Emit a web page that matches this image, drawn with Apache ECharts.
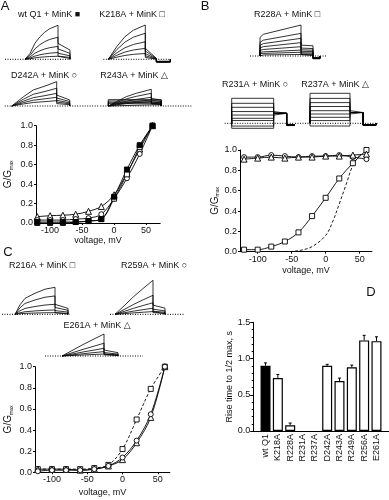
<!DOCTYPE html>
<html><head><meta charset="utf-8">
<script src="https://cdn.jsdelivr.net/npm/echarts@6/dist/echarts.min.js"></script>
<style>html,body{margin:0;padding:0;background:#fff}#c{width:389px;height:500px}</style>
</head><body><div id="c"></div>
<script>
const FONT = 'Liberation Sans, Arial, DejaVu Sans, sans-serif';

// ---------- G–V data (voltage in mV, normalized conductance) ----------
const vSteps = [-120, -100, -80, -60, -40, -20, 0, 20, 40, 60];
const vTicks = [-100, -50, 0, 50];
// Panel A
const gvWtQ1  = [0.01, 0.01, 0.01, 0.01, 0.02, 0.04, 0.27, 0.55, 0.80, 1.00];
const gvK218A = [0.00, 0.00, 0.00, 0.01, 0.02, 0.04, 0.25, 0.50, 0.78, 1.00];
const gvD242A = [0.03, 0.03, 0.03, 0.04, 0.05, 0.09, 0.25, 0.46, 0.71, 1.00];
const gvR243A = [0.065, 0.075, 0.08, 0.09, 0.12, 0.17, 0.29, 0.51, 0.76, 1.00];
// Panel B
const gvR228A = [0.02, 0.02, 0.05, 0.10, 0.19, 0.35, 0.53, 0.72, 0.87, 1.00];
const gvR231A = [0.93, 0.93, 0.95, 0.94, 0.93, 0.94, 0.94, 0.95, 0.93, 0.91];
const gvR237A = [0.91, 0.92, 0.93, 0.92, 0.93, 0.93, 0.94, 0.94, 0.95, 0.96];
const fitWtV  = [-60, -40, -20, 0, 10, 20, 30, 40, 50];
const fitWtG  = [0.00, 0.01, 0.05, 0.16, 0.29, 0.47, 0.66, 0.85, 0.95];
// Panel C
const gvR216A = [0.03, 0.03, 0.03, 0.03, 0.04, 0.07, 0.22, 0.50, 0.79, 1.00];
const gvR259A = [0.01, 0.02, 0.02, 0.02, 0.03, 0.06, 0.14, 0.30, 0.55, 1.00];
const gvE261A = [0.03, 0.03, 0.03, 0.02, 0.03, 0.06, 0.12, 0.28, 0.52, 1.00];

// ---------- Panel D: rise time to 1/2 max (s) ----------
const mutants   = ['wt Q1', 'K218A', 'R228A', 'R231A', 'R237A', 'D242A', 'R243A', 'R249A', 'R256A', 'E261A'];
const riseTime  = [0.90, 0.73, 0.08, null, null, 0.90, 0.69, 0.88, 1.25, 1.24];
const riseErr   = [0.04, 0.05, 0.03, 0, 0, 0.02, 0.04, 0.03, 0.07, 0.06];

// ---------- Current traces (time in ms from step onset, current normalized) ----------
// times: [baseline start, step end, tail end, baseline end]
const wtTimes = [-1000, 1650, 2250, 2250];
const wtLevels = [1, 0.65, 0.38, 0.2, 0.09];
const wtShapeT = [0, 0.15, 0.3, 0.45, 0.6, 0.75, 1];
const wtShapeG = [0, 0.17, 0.47, 0.66, 0.8, 0.9, 1];
const wtTail = [0.47, 0.27];

const k218Times = [-250, 1850, 2400, 3100];
const k218Levels = [1, 0.76, 0.51, 0.32, 0.17];
const k218ShapeT = [0, 0.23, 0.45, 0.68, 1];
const k218ShapeG = [0, 0.37, 0.66, 0.85, 1];
const k218Tail = [0.32, 0.03];
const k218Under = [-0.07, 3100];

const d242Times = [-350, 2250, 2900, 4400];
const d242Levels = [1, 0.73, 0.52, 0.36, 0.22];
const d242ShapeT = [0, 0.26, 0.48, 0.74, 1];
const d242ShapeG = [0, 0.38, 0.66, 0.82, 1];
const d242Tail = [0.45, 0.25];

const r243Times = [-400, 2150, 2650, 4200];
const r243Levels = [1, 0.76, 0.52, 0.36, 0.26];
const r243ShapeT = [0, 0.19, 0.42, 0.65, 1];
const r243ShapeG = [0, 0.26, 0.56, 0.76, 1];
const r243Tail = [0.46, 0.35];
const r243Flat = [0.38, 0.3, 0.22, 0.14, 0.07];

const r228Times = [-500, 2050, 2650, 3350];
const r228Levels = [1, 0.73, 0.57, 0.43, 0.3, 0.19, 0.12, 0.05];
const r228ShapeT = [0, 0, 0.08, 1];
const r228ShapeG = [0, 0.6, 0.7, 1];
const r228Tail = [0.35, 0.33];
const r228Under = [-0.075, 3000];

const r231Times = [-350, 2100, 2750, 3100];
const r231Flat = [1, 0.8, 0.64, 0.47, 0.33, 0.2, 0.11, -0.11, -0.2];
const r231FlatTail = 0.4;
const r231Under = [-0.07, 3200];

const r237Times = [-750, 2000, 2650, 3400];
const r237Flat = [1, 0.83, 0.69, 0.56, 0.42, 0.31, 0.2, 0.09, -0.09];
const r237FlatTail = 0.36;
const r237Under = [-0.06, 3300];

const r216Times = [-650, 2000, 2650, 2750];
const r216Levels = [1, 0.68, 0.37, 0.16, 0.06];
const r216ShapeT = [0, 0.125, 0.25, 0.5, 0.75, 1];
const r216ShapeG = [0, 0.35, 0.59, 0.78, 0.93, 1];
const r216Tail = [0.37, 0.22];

const r259Times = [-250, 1900, 2500, 3500];
const r259Levels = [1, 0.56, 0.34, 0.18, 0.08];
const r259ShapeT = [0, 0.26, 0.48, 0.74, 1];
const r259ShapeG = [0, 0.27, 0.51, 0.76, 1];
const r259Tail = [0.27, 0.18];

const e261Times = [-850, 2100, 2800, 4050];
const e261Levels = [1, 0.58, 0.35, 0.2, 0.09];
const e261ShapeT = [0, 0.5, 1];
const e261ShapeG = [0, 0.52, 1];
const e261Tail = [0.27, 0.15];

// scale bars [t, i, dt, di] in the units of the family they sit next to
const scaleA = [2675, 0.42, 500, 0.35];
const scaleB = [4085, 0.41, 665, 0.37];
const scaleC = [3665, 0.63, 420, 0.33];

// ---------- layout ----------
const PX_PER_MS = 0.02, TY_MIN = -0.35, TY_MAX = 1.05;
const families = [
  {layout: [25, 59.3, 34], times: wtTimes, levels: wtLevels, shapeT: wtShapeT, shapeG: wtShapeG, tail: wtTail, scale: scaleA},
  {layout: [108.3, 59.3, 34.3], times: k218Times, levels: k218Levels, shapeT: k218ShapeT, shapeG: k218ShapeG, tail: k218Tail, under: k218Under},
  {layout: [11.7, 106, 24.3], times: d242Times, levels: d242Levels, shapeT: d242ShapeT, shapeG: d242ShapeG, tail: d242Tail},
  {layout: [108.3, 106, 16.7], times: r243Times, levels: r243Levels, shapeT: r243ShapeT, shapeG: r243ShapeG, tail: r243Tail, flat: r243Flat},
  {layout: [260, 56, 31], times: r228Times, levels: r228Levels, shapeT: r228ShapeT, shapeG: r228ShapeG, tail: r228Tail, under: r228Under, scale: scaleB},
  {layout: [231.7, 123.3, 25], times: r231Times, flat: r231Flat, flatTail: r231FlatTail, under: r231Under},
  {layout: [310, 123.3, 30], times: r237Times, flat: r237Flat, flatTail: r237FlatTail, under: r237Under},
  {layout: [15, 314.3, 27], times: r216Times, levels: r216Levels, shapeT: r216ShapeT, shapeG: r216ShapeG, tail: r216Tail, scale: scaleC},
  {layout: [115, 314.3, 34], times: r259Times, levels: r259Levels, shapeT: r259ShapeT, shapeG: r259ShapeG, tail: r259Tail},
  {layout: [62, 356, 22], times: e261Times, levels: e261Levels, shapeT: e261ShapeT, shapeG: e261ShapeG, tail: e261Tail}
];

const grids = [], xAxes = [], yAxes = [], series = [];
const TXT = '#111';

function gvAxes(gi, xmin, xmax, xNameGap, yNameGap) {
  xAxes.push({
    type: 'value', gridIndex: gi, min: xmin, max: xmax,
    name: 'voltage, mV', nameLocation: 'middle', nameGap: xNameGap,
    nameTextStyle: {fontSize: 9, fontFamily: FONT, color: TXT},
    axisLine: {onZero: false, lineStyle: {color: '#000', width: 1}},
    axisTick: {customValues: vTicks, length: 2, lineStyle: {color: '#000'}},
    axisLabel: {customValues: vTicks, fontSize: 9, fontFamily: FONT, color: TXT, margin: 3},
    splitLine: {show: false}
  });
  yAxes.push({
    type: 'value', gridIndex: gi, min: 0, max: 1, interval: 0.2,
    name: 'G/G{m|max}', nameLocation: 'middle', nameGap: yNameGap, nameRotate: 90,
    nameTextStyle: {fontSize: 10, fontFamily: FONT, color: TXT,
      rich: {m: {fontSize: 5, fontFamily: FONT, color: TXT, verticalAlign: 'bottom', padding: [6, 0, 0, 0]}}},
    axisLine: {show: true, onZero: false, lineStyle: {color: '#000', width: 1}},
    axisTick: {show: true, length: 2, lineStyle: {color: '#000'}},
    axisLabel: {fontSize: 9, fontFamily: FONT, color: TXT, margin: 3, formatter: v => v.toFixed(1)},
    splitLine: {show: false}
  });
}

function gvSeries(gi, vals, symbol, filled, dashed, xs) {
  const xv = xs || vSteps;
  series.push({
    type: 'line', xAxisIndex: gi, yAxisIndex: gi, smooth: 0.35,
    data: xv.map((v, i) => [v, vals[i]]),
    symbol: symbol || 'none', symbolSize: symbol === 'triangle' ? 6 : 5, showSymbol: !!symbol,
    itemStyle: {color: filled ? '#000' : '#fff', borderColor: '#000', borderWidth: 0.9},
    lineStyle: {color: '#000', width: 0.9, type: dashed ? [3, 2] : 'solid'},
    animation: false, silent: true, z: 3
  });
}

// Grid 0: panel A G–V
grids.push({left: 36, top: 125.7, width: 124.2, height: 97.3});
gvAxes(0, -122, 72, 11, 22);
gvSeries(0, gvR243A, 'triangle');
gvSeries(0, gvD242A, 'circle');
gvSeries(0, gvK218A, 'rect');
gvSeries(0, gvWtQ1, 'rect', true);

// Grid 1: panel B G–V
grids.push({left: 240, top: 150, width: 131.9, height: 101.7});
gvAxes(1, -126, 68, 14, 17);
gvSeries(1, fitWtG, null, false, true, fitWtV);
gvSeries(1, gvR228A, 'rect');
gvSeries(1, gvR231A, 'circle');
gvSeries(1, gvR237A, 'triangle');

// Grid 2: panel C G–V
grids.push({left: 35, top: 366.7, width: 134.8, height: 105.6});
gvAxes(2, -124, 67, 16, 21);
gvSeries(2, gvR216A, 'rect', false, true);
gvSeries(2, gvE261A, 'triangle');
gvSeries(2, gvR259A, 'circle');

// Grid 3: panel D bars
grids.push({left: 253.2, top: 322.3, width: 135.6, height: 108.7});
xAxes.push({
  type: 'value', gridIndex: 3, min: -1, max: 10, interval: 1,
  axisLine: {onZero: false, lineStyle: {color: '#000', width: 1}},
  axisTick: {show: false},
  axisLabel: {rotate: 90, fontSize: 9, fontFamily: FONT, color: TXT, margin: 3,
    formatter: v => (v >= 0 && v < mutants.length) ? mutants[v] : ''},
  splitLine: {show: false}
});
yAxes.push({
  type: 'value', gridIndex: 3, min: 0, max: 1.5, interval: 0.5,
  name: 'Rise time to 1/2 max, s', nameLocation: 'middle', nameGap: 19, nameRotate: 90,
  nameTextStyle: {fontSize: 9, fontFamily: FONT, color: TXT},
  axisLine: {show: true, onZero: false, lineStyle: {color: '#000', width: 1}},
  axisTick: {show: true, length: 3, lineStyle: {color: '#000'}},
  minorTick: {show: true, splitNumber: 5, length: 1.5, lineStyle: {color: '#000'}},
  axisLabel: {fontSize: 9, fontFamily: FONT, color: TXT, margin: 3, formatter: v => v.toFixed(1)},
  splitLine: {show: false}
});
series.push({
  type: 'bar', xAxisIndex: 3, yAxisIndex: 3, barWidth: 10, animation: false, silent: true,
  data: riseTime.map((v, i) => ({
    value: [i, v],
    itemStyle: {color: i === 0 ? '#000' : '#fff', borderColor: '#000', borderWidth: 1.2}
  }))
});
series.push({
  type: 'custom', xAxisIndex: 3, yAxisIndex: 3, animation: false, silent: true, z: 5,
  data: riseTime.map((v, i) => [i, v, riseErr[i]]).filter(d => d[1] != null),
  renderItem: (params, api) => {
    const x = api.value(0), y = api.value(1), e = api.value(2);
    const p0 = api.coord([x, y]), p1 = api.coord([x, y + e]);
    const st = {stroke: '#000', lineWidth: 1};
    return {type: 'group', children: [
      {type: 'line', shape: {x1: p0[0], y1: p0[1], x2: p1[0], y2: p1[1]}, style: st},
      {type: 'line', shape: {x1: p1[0] - 1.5, y1: p1[1], x2: p1[0] + 1.5, y2: p1[1]}, style: st}
    ]};
  }
});

// Trace grids
function traceLine(gi, pts, extra) {
  series.push(Object.assign({
    type: 'line', xAxisIndex: gi, yAxisIndex: gi, data: pts, symbol: 'none', clip: false,
    lineStyle: {color: '#000', width: 0.8}, animation: false, silent: true
  }, extra || {}));
}
families.forEach(f => {
  const gi = grids.length;
  const [ox, by, amp] = f.layout;
  const [t0, tStep, tTail, t1] = f.times;
  grids.push({left: ox + t0 * PX_PER_MS, top: by - TY_MAX * amp,
    width: (t1 - t0) * PX_PER_MS, height: (TY_MAX - TY_MIN) * amp});
  xAxes.push({type: 'value', gridIndex: gi, min: t0, max: t1, show: false});
  yAxes.push({type: 'value', gridIndex: gi, min: TY_MIN, max: TY_MAX, show: false});
  traceLine(gi, [[t0, 0], [t1, 0]], {lineStyle: {color: '#000', width: 1, type: [1, 1.5]}});
  const ending = (pts) => {
    if (f.under) pts.push([tTail, f.under[0]], [f.under[1], f.under[0]], [f.under[1], 0]);
    else pts.push([tTail, 0]);
    return pts;
  };
  (f.levels || []).forEach(L => {
    const pts = f.shapeT.map((s, i) => [s * tStep, f.shapeG[i] * L]);
    pts.push([tStep, L * f.tail[0]], [tTail, L * f.tail[1]]);
    traceLine(gi, ending(pts));
  });
  (f.flat || []).forEach(L => {
    const tl = f.flatTail == null ? L : f.flatTail;
    traceLine(gi, ending([[0, 0], [0, L], [tStep, L], [tStep, tl], [tTail, tl]]));
  });
  if (f.under) traceLine(gi, [[tTail, f.under[0]], [f.under[1], f.under[0]]], {lineStyle: {color: '#000', width: 2}});
  if (f.scale) {
    const [st, si, dt, di] = f.scale;
    traceLine(gi, [[st, si + di], [st, si], [st + dt, si]], {lineStyle: {color: '#000', width: 1}});
  }
});

// Text labels
function txt(x, y, text, size, weight) {
  return {type: 'text', x, y, silent: true,
    style: {text, fontSize: size || 9, fontFamily: FONT, fill: TXT, fontWeight: weight || 'normal',
      textAlign: 'center', textVerticalAlign: 'middle'}};
}
const graphics = [
  txt(5, 6, 'A', 13), txt(205, 6, 'B', 13), txt(8, 252, 'C', 13), txt(371, 292, 'D', 13),
  txt(49, 15, 'wt Q1 + MinK ■'), txt(132, 15, 'K218A + MinK □'),
  txt(44, 76, 'D242A + MinK ○'), txt(134, 76, 'R243A + MinK △'),
  txt(287, 15, 'R228A + MinK □'),
  txt(255, 85, 'R231A + MinK ○'), txt(335, 85, 'R237A + MinK △'),
  txt(42, 266, 'R216A + MinK □'), txt(154, 266, 'R259A + MinK ○'),
  txt(97, 326, 'E261A + MinK △')
];

const chart = echarts.init(document.getElementById('c'), null, {renderer: 'canvas'});
chart.setOption({
  animation: false, backgroundColor: '#fff',
  grid: grids, xAxis: xAxes, yAxis: yAxes, series, graphic: graphics
});
</script></body></html>
